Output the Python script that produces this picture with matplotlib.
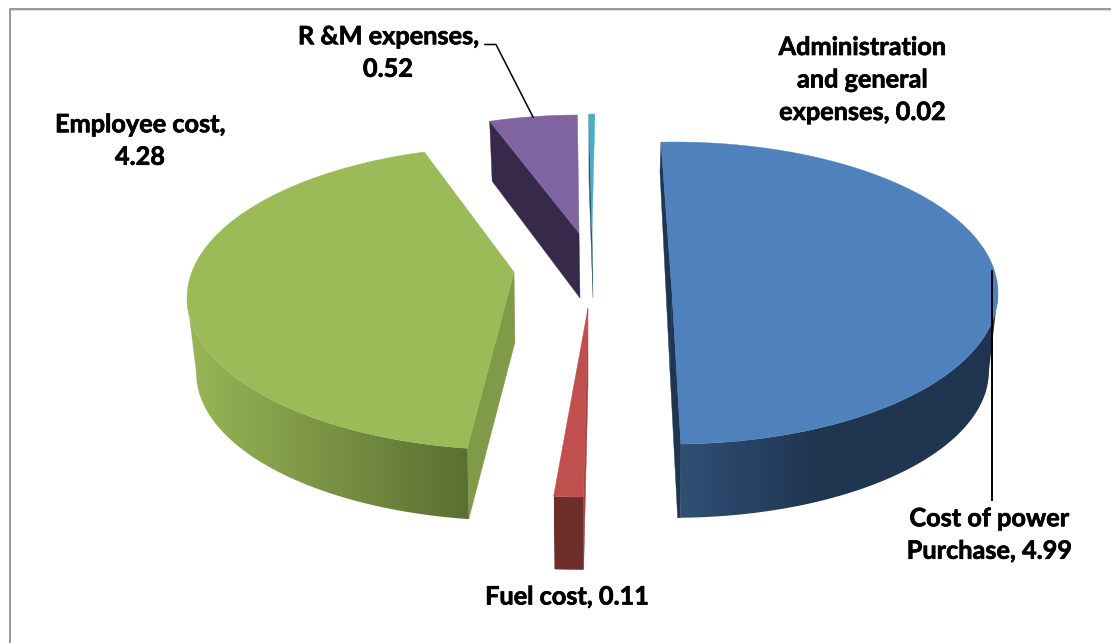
import numpy as np
import matplotlib
matplotlib.use("Agg")
import matplotlib.pyplot as plt
import matplotlib.patheffects as pe
from matplotlib.colors import to_rgb
from matplotlib.patches import Polygon

# data
names = ["Cost of power\nPurchase", "Fuel cost", "Employee cost", "R &M expenses", "Administration\nand general\nexpenses"]
values = [4.99, 0.11, 4.28, 0.52, 0.02]
separators = [", ", ", ", ",\n", ",\n", ", "]

TOTAL = sum(values)

# look of each slice: exploded 3d pie, hand fitted in pixel coords
tops = ["#4f81bd", "#c0504d", "#9bbb59", "#8064a2", "#4bacc6"]
cuts = ["#1f3650", "#a24543", "#7f9a48", "#37294a", "#215968"]
wall_left = ["#2f5075", "#6e2e2c", "#98b656", "#37294a", "#215968"]
wall_right = ["#1f3550", "#6e2e2c", "#5a6e31", "#37294a", "#215968"]
# x where the wall gradient ends, the rest stays flat
wall_span = [(678, 820), (550, 590), (190, 470), (480, 590), (580, 600)]
start_angles = [-2.3, 180.6, 188.5, -19.4, -0.5]
centers = [(674, 293), (588, 347), (516, 298), (580, 225), (593, 264)]
radii = [(324, 151), (430, 150), (329, 152), (272, 110), (473, 150)]
apexes = [(672, 293), (588, 308), (514, 272), (579, 233), (592, 233)]
depths = [78, 77, 75, 57, 62]
SHRINK = 0.972
draw_order = [2, 3, 4, 1, 0]

LABEL_POS = [(989, 535), (567, 597), (140, 141), (388, 53), (862, 80)]


def arc(i, t, bottom=False):
    t = np.radians(t)
    cx, cy = centers[i]
    rx, ry = radii[i]
    if bottom:
        return cx + SHRINK * rx * np.sin(t), cy - SHRINK * ry * np.cos(t) + depths[i]
    return cx + rx * np.sin(t), cy - ry * np.cos(t)


fig = plt.figure(figsize=(11.11, 6.43), dpi=100)
ax = fig.add_axes([0, 0, 1, 1])
ax.axis("off")

# chart frame, open at the bottom
ax.plot([1111, 9.5, 9.5], [8.5, 8.5, 643], color="#868686", lw=1.2, zorder=1)
ax.plot([1111, 11], [10, 10], color="#dcdcdc", lw=0.7, zorder=1)

for i in draw_order:
    sweep = values[i] / TOTAL * 360
    t0 = start_angles[i]
    t1 = t0 + sweep
    ts = np.linspace(t0, t1, 240)
    ax_, ay_ = apexes[i]
    d = depths[i]

    # outer wall, only the front half is seen
    lo, hi = max(t0, 90), min(t1, 270)
    if hi > lo:
        wt = np.linspace(lo, hi, 200)
        xt, yt = arc(i, wt)
        xb, yb = arc(i, wt, True)
        px = np.r_[xt, xb[::-1]]
        py = np.r_[yt, yb[::-1]]
        c0, c1 = np.array(to_rgb(wall_left[i])), np.array(to_rgb(wall_right[i]))
        xmin, xmax = px.min(), px.max()
        grid = np.linspace(xmin, xmax, 512)
        f = np.clip((grid - wall_span[i][0]) / (wall_span[i][1] - wall_span[i][0]), 0, 1)
        img = c0 + (c1 - c0) * f[:, None]
        im = ax.imshow(img[None, :, :], extent=(xmin, xmax, py.max(), py.min()),
                       aspect="auto", zorder=3, interpolation="bilinear")
        clip = Polygon(np.c_[px, py], closed=True, transform=ax.transData, fc="none", ec="none")
        ax.add_patch(clip)
        im.set_clip_path(clip)

    # cut faces
    if i == 0:
        x, y = arc(i, t0)
        ax.fill([x, x - 1, ax_ - 2, ax_], [y, y + 30, ay_ + d, ay_], color=cuts[i], lw=0.3, zorder=2)
        x, y = arc(i, t1)
        xb, yb = arc(i, t1, True)
        ax.fill([ax_, ax_ - 2, xb - 3, xb, x], [ay_, ay_ + d, yb, yb, y], color=cuts[i], lw=0.3, zorder=2)
    elif i == 1:
        x, y = arc(i, t0)
        xb, yb = arc(i, t0, True)
        ax.fill([ax_, ax_, xb, x], [ay_, ay_ + d, yb, y], color=cuts[i], lw=0.3, zorder=2)
    else:
        x, y = arc(i, t0)
        xb, yb = arc(i, t0, True)
        ax.fill([ax_, ax_ + 1, xb, x], [ay_, ay_ + (70 if i == 2 else 65), yb, y], color=cuts[i], lw=0.3, zorder=2)

    # top face
    xs, ys = arc(i, ts)
    ax.fill(np.r_[ax_, xs], np.r_[ay_, ys], color=tops[i], lw=0.3, zorder=4)

# leader lines
ax.plot([485, 496, 533], [44.5, 44.5, 117], color="black", lw=1.1, zorder=5)
ax.plot([992, 992], [271, 500], color="black", lw=1.4, zorder=5)

for name, val, sep, (lx, ly) in zip(names, values, separators, LABEL_POS):
    ax.text(lx, ly, f"{name}{sep}{val}", ha="center", va="center", fontsize=18.2,
            fontweight="bold", family="Lato", color="black", linespacing=1.5, zorder=6,
            path_effects=[pe.withStroke(linewidth=0.5, foreground="black")])

ax.set_xlim(0, 1111)
ax.set_ylim(643, 0)

fig.savefig("out.png", dpi=100)
